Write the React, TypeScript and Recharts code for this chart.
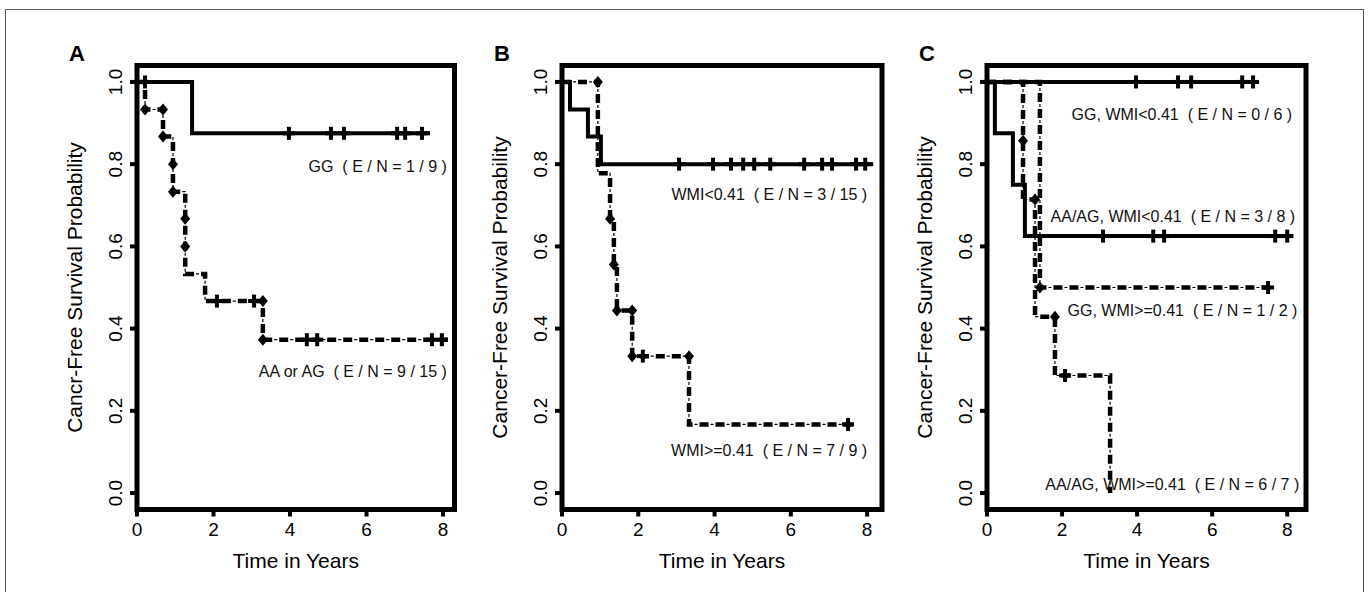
import { ComposedChart, Customized, Line, ReferenceArea, Scatter, XAxis, YAxis } from "recharts";

const FONT = "'Liberation Sans', Arial, Helvetica, sans-serif";

const X_TICKS = [0, 2, 4, 6, 8];
const Y_TICKS = [0, 0.2, 0.4, 0.6, 0.8, 1.0];
const Y_DOMAIN: [number, number] = [-0.04, 1.04];

// Panel A: GG vs AA/AG
const A_GG_T = [0, 1.44, 7.66];
const A_GG_S = [1, 0.875, 0.875];
const A_GG_CENSOR = [0.21, 3.97, 5.07, 5.41, 6.8, 7.01, 7.45];
const A_AG_T = [0, 0.21, 0.68, 0.94, 0.94, 1.26, 1.26, 1.26, 1.78, 3.29, 8.13];
const A_AG_S = [1, 0.933, 0.867, 0.8, 0.733, 0.667, 0.6, 0.533, 0.467, 0.373, 0.373];
const A_AG_CENSOR = [2.09, 3.06, 4.44, 4.71, 7.71, 7.97];
const A_AG_DIAMONDS = [[0.21, 0.933], [0.68, 0.933], [0.68, 0.867], [0.94, 0.8], [0.94, 0.733], [1.26, 0.667], [1.26, 0.6], [3.29, 0.467], [3.29, 0.373]];
const A_LABELS = ["GG  ( E / N = 1 / 9 )", "AA or AG  ( E / N = 9 / 15 )"];
const A_LABEL_X = [8.1, 8.1];
const A_LABEL_Y = [0.794, 0.296];

// Panel B: WMI
const B_LOW_T = [0, 0.21, 0.68, 1.02, 8.16];
const B_LOW_S = [1, 0.933, 0.867, 0.8, 0.8];
const B_LOW_CENSOR = [3.07, 3.96, 4.43, 4.75, 5.04, 5.46, 6.35, 6.82, 7.08, 7.71, 7.95];
const B_HIGH_T = [0, 0.94, 1.26, 1.36, 1.44, 1.84, 3.33, 7.63];
const B_HIGH_S = [1, 0.778, 0.667, 0.556, 0.444, 0.333, 0.167, 0.167];
const B_HIGH_CENSOR = [2.12, 7.5];
const B_HIGH_DIAMONDS = [[0.94, 1], [1.26, 0.667], [1.36, 0.556], [1.44, 0.444], [1.84, 0.444], [1.84, 0.333], [3.33, 0.333]];
const B_LABELS = ["WMI<0.41  ( E / N = 3 / 15 )", "WMI>=0.41  ( E / N = 7 / 9 )"];
const B_LABEL_X = [8.0, 8.0];
const B_LABEL_Y = [0.726, 0.104];

// Panel C: genotype x WMI
const C_GG_LOW_T = [0, 7.23];
const C_GG_LOW_S = [1, 1];
const C_GG_LOW_CENSOR = [3.97, 5.09, 5.44, 6.8, 7.09];
const C_AG_LOW_T = [0, 0.21, 0.69, 1.01, 8.16];
const C_AG_LOW_S = [1, 0.875, 0.75, 0.625, 0.625];
const C_AG_LOW_CENSOR = [3.09, 4.43, 4.72, 7.68, 8.0];
const C_GG_HIGH_T = [0, 1.41, 7.55];
const C_GG_HIGH_S = [1, 0.5, 0.5];
const C_GG_HIGH_CENSOR = [7.49];
const C_AG_HIGH_T = [0, 0.96, 0.96, 1.28, 1.28, 1.81, 3.28];
const C_AG_HIGH_S = [1, 0.857, 0.714, 0.571, 0.429, 0.286, 0];
const C_AG_HIGH_CENSOR = [2.08];
const C_DIAMONDS = [[0.96, 0.857], [1.28, 0.714], [1.81, 0.429], [1.41, 0.5]];
const C_LABELS = [
  "GG, WMI<0.41  ( E / N = 0 / 6 )",
  "AA/AG, WMI<0.41  ( E / N = 3 / 8 )",
  "GG, WMI>=0.41  ( E / N = 1 / 2 )",
  "AA/AG, WMI>=0.41  ( E / N = 6 / 7 )",
];
const C_LABEL_X = [8.13, 8.21, 8.27, 8.32];
const C_LABEL_Y = [0.922, 0.672, 0.444, 0.022];

type Pt = { x: number; y: number; text?: string };

const steps = (t: number[], s: number[]): Pt[] => t.map((x, i) => ({ x, y: s[i] }));

const censorPts = (t: number[], s: number[], c: number[]): Pt[] =>
  c.map((x) => {
    let idx = 0;
    t.forEach((tt, i) => {
      if (tt <= x) idx = i;
    });
    return { x, y: s[idx] };
  });

const pairs = (p: number[][]): Pt[] => p.map(([x, y]) => ({ x, y }));
const labels = (txt: string[], xs: number[], ys: number[]): Pt[] => txt.map((text, i) => ({ x: xs[i], y: ys[i], text }));

type Series = { kind: "solid" | "dashdot"; data: Pt[]; censor: Pt[] };

const PANELS = [
  {
    letter: "A",
    yTitle: "Cancr-Free Survival Probability",
    xMax: 8.3,
    left: 0,
    width: 460,
    margin: { top: 65.5, right: 5.5, bottom: 22.5, left: 77 },
    series: [
      { kind: "solid", data: steps(A_GG_T, A_GG_S), censor: censorPts(A_GG_T, A_GG_S, A_GG_CENSOR) },
      { kind: "dashdot", data: steps(A_AG_T, A_AG_S), censor: censorPts(A_AG_T, A_AG_S, A_AG_CENSOR) },
    ] as Series[],
    diamonds: pairs(A_AG_DIAMONDS),
    labels: labels(A_LABELS, A_LABEL_X, A_LABEL_Y),
  },
  {
    letter: "B",
    yTitle: "Cancer-Free Survival Probability",
    xMax: 8.39,
    left: 450,
    width: 440,
    margin: { top: 65.5, right: 8, bottom: 22.5, left: 52 },
    series: [
      { kind: "solid", data: steps(B_LOW_T, B_LOW_S), censor: censorPts(B_LOW_T, B_LOW_S, B_LOW_CENSOR) },
      { kind: "dashdot", data: steps(B_HIGH_T, B_HIGH_S), censor: censorPts(B_HIGH_T, B_HIGH_S, B_HIGH_CENSOR) },
    ] as Series[],
    diamonds: pairs(B_HIGH_DIAMONDS),
    labels: labels(B_LABELS, B_LABEL_X, B_LABEL_Y),
  },
  {
    letter: "C",
    yTitle: "Cancer-Free Survival Probability",
    xMax: 8.5,
    left: 900,
    width: 420,
    margin: { top: 65.5, right: 14, bottom: 22.5, left: 27 },
    series: [
      { kind: "solid", data: steps(C_GG_LOW_T, C_GG_LOW_S), censor: censorPts(C_GG_LOW_T, C_GG_LOW_S, C_GG_LOW_CENSOR) },
      { kind: "solid", data: steps(C_AG_LOW_T, C_AG_LOW_S), censor: censorPts(C_AG_LOW_T, C_AG_LOW_S, C_AG_LOW_CENSOR) },
      { kind: "dashdot", data: steps(C_GG_HIGH_T, C_GG_HIGH_S), censor: censorPts(C_GG_HIGH_T, C_GG_HIGH_S, C_GG_HIGH_CENSOR) },
      { kind: "dashdot", data: steps(C_AG_HIGH_T, C_AG_HIGH_S), censor: censorPts(C_AG_HIGH_T, C_AG_HIGH_S, C_AG_HIGH_CENSOR) },
    ] as Series[],
    diamonds: pairs(C_DIAMONDS),
    labels: labels(C_LABELS, C_LABEL_X, C_LABEL_Y),
  },
];

const PlusMark = (props: any) => {
  const { cx, cy } = props;
  if (cx == null || cy == null) return null;
  return (
    <g fill="#000">
      <rect x={cx - 6} y={cy - 2} width={12} height={4} />
      <rect x={cx - 2} y={cy - 6.5} width={4} height={13} />
    </g>
  );
};

const DiamondMark = (props: any) => {
  const { cx, cy } = props;
  if (cx == null || cy == null) return null;
  return <polygon points={`${cx},${cy - 6} ${cx + 5},${cy} ${cx},${cy + 6} ${cx - 5},${cy}`} fill="#000" />;
};

const LabelMark = (props: any) => {
  const { cx, cy, payload } = props;
  if (cx == null || cy == null) return null;
  return (
    <text x={cx} y={cy} dy="0.35em" textAnchor="end" fontSize={16} fontFamily={FONT} fill="#111" style={{ whiteSpace: "pre" }}>
      {payload.text}
    </text>
  );
};

const YTick = (props: any) => {
  const { x, y, payload } = props;
  return (
    <text x={x} y={y} transform={`rotate(-90 ${x} ${y})`} textAnchor="middle" fontSize={19} fontFamily={FONT} fill="#000">
      {Number(payload.value).toFixed(1)}
    </text>
  );
};

function Panel({ p }: { p: (typeof PANELS)[number] }) {
  return (
    <ComposedChart width={p.width} height={592} margin={p.margin}>
      <XAxis
        type="number"
        dataKey="x"
        domain={[0, p.xMax]}
        ticks={X_TICKS}
        axisLine={false}
        tickLine={{ stroke: "#000", strokeWidth: 4 }}
        tickSize={7}
        tickMargin={6.5}
        tick={{ fill: "#000", fontSize: 19, fontFamily: FONT }}
        height={60}
        label={{ value: "Time in Years", position: "insideBottom", offset: 2, fill: "#000", fontSize: 21, fontFamily: FONT }}
      />
      <YAxis
        type="number"
        dataKey="y"
        domain={Y_DOMAIN}
        ticks={Y_TICKS}
        width={60}
        axisLine={false}
        tickLine={{ stroke: "#000", strokeWidth: 4 }}
        tickSize={7}
        tickMargin={8}
        tick={<YTick />}
        label={{
          value: p.yTitle,
          angle: -90,
          position: "insideLeft",
          offset: -2,
          fill: "#000",
          fontSize: 21,
          fontFamily: FONT,
          style: { textAnchor: "middle" },
        }}
      />
      <ReferenceArea x1={0} x2={p.xMax} y1={Y_DOMAIN[0]} y2={Y_DOMAIN[1]} fill="none" stroke="#000" strokeWidth={5} fillOpacity={0} strokeOpacity={1} />
      {p.series.map((s, i) =>
        s.kind === "solid" ? (
          <Line
            key={`s${i}`}
            data={s.data}
            dataKey="y"
            type="stepAfter"
            stroke="#000"
            strokeWidth={4}
            strokeLinejoin="miter"
            dot={false}
            activeDot={false}
            isAnimationActive={false}
          />
        ) : (
          [
            <Line
              key={`t${i}`}
              data={s.data}
              dataKey="y"
              type="stepAfter"
              stroke="#000"
              strokeWidth={1.2}
              strokeDasharray="0 11 3 2"
              dot={false}
              activeDot={false}
              isAnimationActive={false}
            />,
            <Line
              key={`d${i}`}
              data={s.data}
              dataKey="y"
              type="stepAfter"
              stroke="#000"
              strokeWidth={4.5}
              strokeDasharray="9 7"
              dot={false}
              activeDot={false}
              isAnimationActive={false}
            />,
          ]
        ),
      )}
      {p.series.map((s, i) => (
        <Scatter key={`c${i}`} data={s.censor} shape={<PlusMark />} isAnimationActive={false} />
      ))}
      <Scatter data={p.diamonds} shape={<DiamondMark />} isAnimationActive={false} />
      <Scatter data={p.labels} shape={<LabelMark />} isAnimationActive={false} />
      <Customized
        component={() => (
          <text x={p.margin.left} y={61} textAnchor="middle" fontSize={22} fontWeight="bold" fontFamily={FONT} fill="#000">
            {p.letter}
          </text>
        )}
      />
    </ComposedChart>
  );
}

export default function App() {
  return (
    <div style={{ position: "absolute", left: 0, top: 0, width: 1372, height: 592, background: "#fff", overflow: "hidden", fontFamily: FONT }}>
      <div style={{ position: "absolute", left: 5, top: 9, width: 1359, height: 640, border: "1.5px solid #555", boxSizing: "border-box" }} />
      {PANELS.map((p) => (
        <div key={p.letter} style={{ position: "absolute", left: p.left, top: 0, width: p.width, height: 592 }}>
          <Panel p={p} />
        </div>
      ))}
    </div>
  );
}
